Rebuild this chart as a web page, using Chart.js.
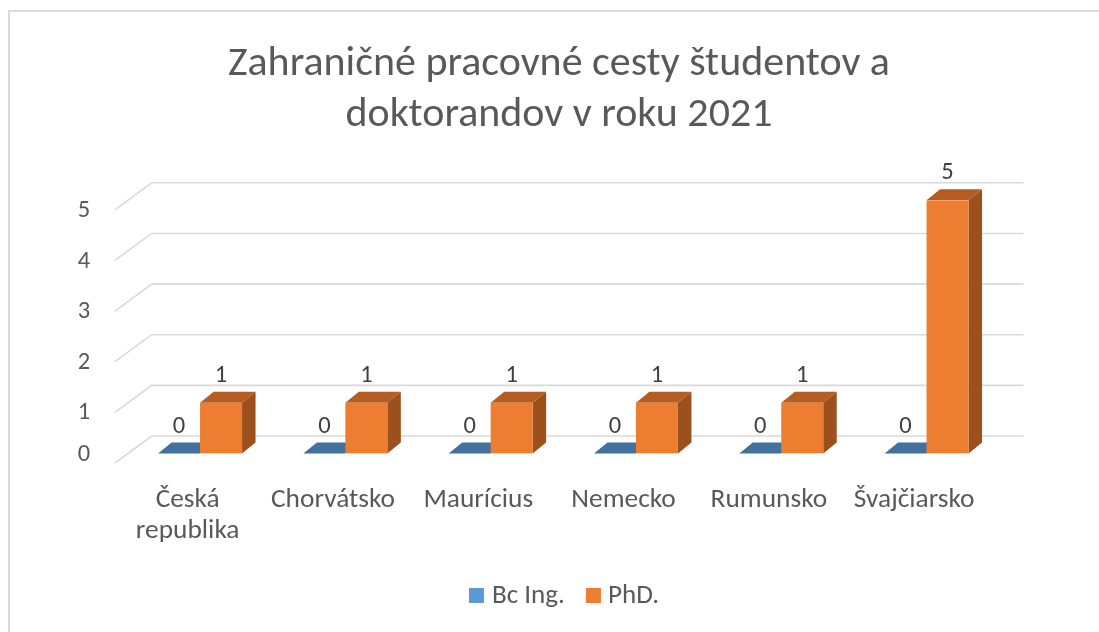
<!DOCTYPE html>
<html>
<head>
<meta charset="utf-8">
<script src="https://cdn.jsdelivr.net/npm/chart.js@4.4.1/dist/chart.umd.min.js"></script>
<style>
  html, body { margin: 0; padding: 0; background: #ffffff; }
  #wrap { width: 1099px; height: 632px; }
</style>
</head>
<body>
<div id="wrap"><canvas id="c" width="1099" height="632"></canvas></div>
<script>
// ---- data ----
const categories = ['Česká republika', 'Chorvátsko', 'Maurícius', 'Nemecko', 'Rumunsko', 'Švajčiarsko'];
const seriesNames = ['Bc Ing.', 'PhD.'];
const bcIng = [0, 0, 0, 0, 0, 0];
const phd = [1, 1, 1, 1, 1, 5];
const yTicks = [0, 1, 2, 3, 4, 5];
const titleLines = ['Zahraničné pracovné cesty študentov a', 'doktorandov v roku 2021'];

// ---- style ----
const FONT = "Carlito, Lato, 'Open Sans', sans-serif";
const TEXT = '#595959';
const GRID = '#d9d9d9';
const faces = [
  { front: '#5b9bd5', top: '#41719c', side: '#3a6590', legend: '#5b9bd5' },
  { front: '#ed7d31', top: '#b65e22', side: '#9c511d', legend: '#ed7d31' }
];
const DEPTH = { dx: 13.5, dy: -11 };      // bar depth
const BACK = { dx: 24.3, dy: -17.5 };     // back wall offset from bar plane
const FRONT = { dx: -12.4, dy: 9.5 };     // floor front edge offset from bar plane

function fitSize(ctx, text, target) {
  ctx.font = '100px ' + FONT;
  return 100 * target / ctx.measureText(text).width;
}

const threeD = {
  id: 'threeD',
  beforeDatasetsDraw(chart) {
    const ctx = chart.ctx;
    const ys = chart.scales.y, ca = chart.chartArea;
    ctx.save();
    // gridlines: side wall + back wall
    ctx.strokeStyle = GRID;
    ctx.lineWidth = 1.6;
    yTicks.forEach(v => {
      const y = ys.getPixelForValue(v);
      ctx.beginPath();
      ctx.moveTo(ca.left + FRONT.dx, y + FRONT.dy);
      ctx.lineTo(ca.left + BACK.dx, y + BACK.dy);
      ctx.lineTo(ca.right + BACK.dx, y + BACK.dy);
      ctx.stroke();
    });
    // y tick labels
    ctx.font = '24.5px ' + FONT;
    ctx.fillStyle = TEXT;
    ctx.textAlign = 'center';
    ctx.textBaseline = 'middle';
    yTicks.forEach(v => {
      const y = Math.min(ys.getPixelForValue(v) + FRONT.dy, ca.bottom + 0.5);
      ctx.fillText(String(v), 84, y + 1);
    });
    // top and side faces of bars (front faces drawn by Chart.js afterwards)
    chart.data.datasets.forEach((ds, di) => {
      const meta = chart.getDatasetMeta(di);
      meta.data.forEach(el => {
        const p = el.getProps(['x', 'y', 'base', 'width'], true);
        const l = p.x - p.width / 2, r = p.x + p.width / 2;
        const top = Math.min(p.y, p.base), base = Math.max(p.y, p.base);
        ctx.fillStyle = faces[di].top;
        ctx.beginPath();
        ctx.moveTo(l, top);
        ctx.lineTo(r, top);
        ctx.lineTo(r + DEPTH.dx, top + DEPTH.dy);
        ctx.lineTo(l + DEPTH.dx, top + DEPTH.dy);
        ctx.closePath();
        ctx.fill();
        if (base - top > 0.5) {
          ctx.fillStyle = faces[di].side;
          ctx.beginPath();
          ctx.moveTo(r, top);
          ctx.lineTo(r + DEPTH.dx, top + DEPTH.dy);
          ctx.lineTo(r + DEPTH.dx, base + DEPTH.dy);
          ctx.lineTo(r, base);
          ctx.closePath();
          ctx.fill();
        }
      });
    });
    ctx.restore();
  },
  afterDatasetsDraw(chart) {
    const ctx = chart.ctx;
    const xs = chart.scales.x, ca = chart.chartArea;
    ctx.save();
    // value labels
    ctx.font = '24.5px ' + FONT;
    ctx.fillStyle = '#404040';
    ctx.textAlign = 'center';
    ctx.textBaseline = 'middle';
    chart.data.datasets.forEach((ds, di) => {
      const meta = chart.getDatasetMeta(di);
      meta.data.forEach((el, i) => {
        const p = el.getProps(['x', 'y'], true);
        ctx.fillText(String(ds.data[i]), p.x, p.y + DEPTH.dy - 16);
      });
    });
    // category labels
    const catSize = fitSize(ctx, 'Chorvátsko', 124);
    ctx.font = catSize + 'px ' + FONT;
    ctx.fillStyle = TEXT;
    ctx.textBaseline = 'alphabetic';
    const catW = (ca.right - ca.left) / categories.length;
    categories.forEach((c, i) => {
      const x = xs.getPixelForValue(i) + FRONT.dx;
      const words = c.split(' ');
      const lines = [];
      let cur = '';
      words.forEach(w => {
        const test = cur ? cur + ' ' + w : w;
        if (cur && ctx.measureText(test).width > catW * 0.95) { lines.push(cur); cur = w; }
        else cur = test;
      });
      lines.push(cur);
      lines.forEach((ln, k) => ctx.fillText(ln, x, 506.5 + k * 31));
    });
    // title
    const tSize = fitSize(ctx, titleLines[0], 662);
    ctx.font = tSize + 'px ' + FONT;
    ctx.fillStyle = TEXT;
    titleLines.forEach((ln, k) => ctx.fillText(ln, 559, 74.5 + k * 51));
    // legend
    const lSize = fitSize(ctx, seriesNames[0], 73);
    ctx.font = lSize + 'px ' + FONT;
    ctx.textAlign = 'left';
    ctx.textBaseline = 'middle';
    const widths = seriesNames.map(s => ctx.measureText(s).width);
    const total = 15 + 8 + widths[0] + 21 + 15 + 7 + widths[1];
    let x = 564 - total / 2;
    seriesNames.forEach((s, k) => {
      ctx.fillStyle = faces[k].legend;
      ctx.fillRect(x, 588, 15, 15);
      x += 15 + (k === 0 ? 8 : 7);
      ctx.fillStyle = TEXT;
      ctx.fillText(s, x, 596.5);
      x += widths[k] + 21;
    });
    // chart border
    ctx.strokeStyle = GRID;
    ctx.lineWidth = 2;
    ctx.strokeRect(9, 11, 1200, 800);
    ctx.restore();
  }
};

new Chart(document.getElementById('c'), {
  type: 'bar',
  data: {
    labels: categories,
    datasets: [
      { label: seriesNames[0], data: bcIng, backgroundColor: faces[0].front, borderWidth: 0,
        categoryPercentage: 0.578, barPercentage: 1 },
      { label: seriesNames[1], data: phd, backgroundColor: faces[1].front, borderWidth: 0,
        categoryPercentage: 0.578, barPercentage: 1 }
    ]
  },
  options: {
    responsive: false,
    animation: false,
    devicePixelRatio: 1,
    layout: { padding: { left: 127.4, right: 1099 - 999.2, top: 200.3, bottom: 632 - 453.5 } },
    scales: {
      x: { display: false, grid: { display: false } },
      y: { display: false, min: 0, max: 5, grid: { display: false } }
    },
    plugins: { legend: { display: false }, title: { display: false }, tooltip: { enabled: false } }
  },
  plugins: [threeD]
});
</script>
</body>
</html>
